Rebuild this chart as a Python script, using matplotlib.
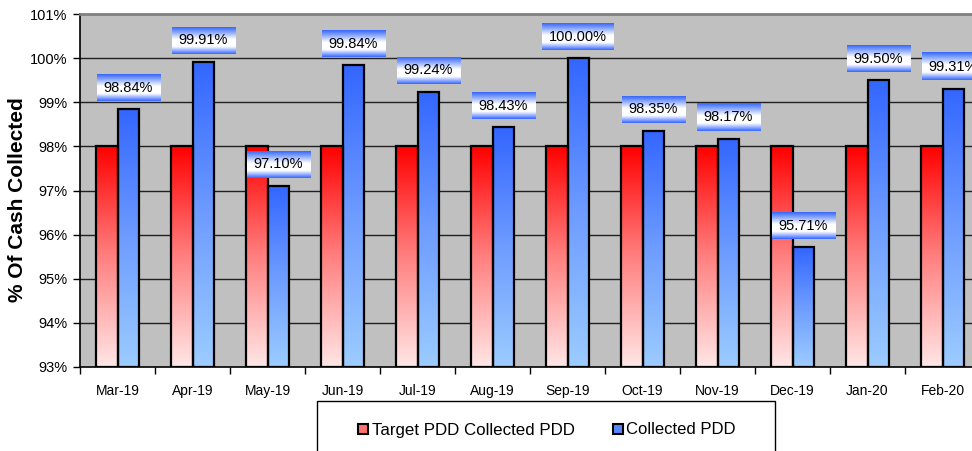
import numpy as np
import matplotlib
matplotlib.use('Agg')
import matplotlib.pyplot as plt
from matplotlib.colors import LinearSegmentedColormap
from matplotlib.patches import Rectangle

plt.rcParams['font.family'] = ['Liberation Sans', 'DejaVu Sans']

# Data
months = ['Mar-19', 'Apr-19', 'May-19', 'Jun-19', 'Jul-19', 'Aug-19',
          'Sep-19', 'Oct-19', 'Nov-19', 'Dec-19', 'Jan-20', 'Feb-20']
target = [98, 98, 98, 98, 98, 98, 98, 98, 98, 98, 98, 98]
collected = [98.84, 99.91, 97.10, 99.84, 99.24, 98.43,
             100.00, 98.35, 98.17, 95.71, 99.50, 99.31]
yticks = [93, 94, 95, 96, 97, 98, 99, 100, 101]

red_cmap = LinearSegmentedColormap.from_list('r', ['#FF0000', '#FF8080', '#FFE6E6'])
blue_cmap = LinearSegmentedColormap.from_list('b', ['#3366FF', '#6E9CFF', '#9CCCFF'])
box_cmap = LinearSegmentedColormap.from_list(
    'box', [(0, '#3366FF'), (0.45, '#FFFFFF'), (0.72, '#FFFFFF'), (1, '#3366FF')])

fig = plt.figure(figsize=(9.72, 4.51), dpi=100)
ax = fig.add_axes([80 / 972, (451 - 367) / 451, 900 / 972, 353 / 451])
ax.set_facecolor('#C0C0C0')
ymin, ymax = 93, 101
ax.set_xlim(0, len(months))
ax.set_ylim(ymin, ymax)

grad = np.linspace(0, 1, 256).reshape(-1, 1)
w = 0.29
for i, (t, c) in enumerate(zip(target, collected)):
    for x0, val, cmap in [(i + 0.5 - w, t, red_cmap), (i + 0.5, c, blue_cmap)]:
        ax.imshow(grad, cmap=cmap, aspect='auto', extent=(x0, x0 + w, ymin, val),
                  zorder=2, interpolation='bilinear')
        ax.add_patch(Rectangle((x0, ymin), w, val - ymin, fill=False,
                               edgecolor='black', lw=1.6, zorder=3))
ax.set_xlim(0, len(months))
ax.set_ylim(ymin, ymax)

# gridlines
for y in yticks[1:-1]:
    ax.axhline(y, color='#202020', lw=1, zorder=1)

ax.set_yticks(yticks)
ax.set_yticklabels([f'{y}%' for y in yticks], fontsize=10.5)
ax.set_xticks(np.arange(len(months)) + 0.5)
ax.set_xticklabels(months, fontsize=10)
ax.set_xticks(np.arange(len(months) + 1), minor=True)
ax.tick_params(axis='x', which='major', length=0, pad=12)
ax.tick_params(axis='x', which='minor', length=5, direction='out', width=1)
ax.tick_params(axis='y', length=5, width=1, pad=4)
ax.spines['top'].set_color('#808080')
ax.spines['top'].set_linewidth(2)
ax.spines['right'].set_visible(False)
ax.spines['left'].set_linewidth(1.2)
ax.spines['bottom'].set_linewidth(1.2)

fig.text(18 / 972, (451 - 200) / 451, '% Of Cash Collected', rotation=90,
         fontsize=15, fontweight='bold', ha='center', va='center')

# value labels with gradient boxes
texts = []
for i, c in enumerate(collected):
    t = ax.text(i + 0.5 + w / 2, c + 0.49, f'{c:.2f}%', ha='center', va='center',
                fontsize=10.5, zorder=6, clip_on=False)
    texts.append(t)
fig.canvas.draw()
inv = ax.transData.inverted()
for i, (t, c) in enumerate(zip(texts, collected)):
    bb = t.get_window_extent()
    _, yc = ax.transData.transform((0, c + 0.49))
    (bx0, by0) = inv.transform((bb.x0 - 7, yc - 13.5))
    (bx1, by1) = inv.transform((bb.x1 + 7, yc + 13.5))
    ax.imshow(grad, cmap=box_cmap, aspect='auto', extent=(bx0, bx1, by0, by1),
              zorder=5, interpolation='bilinear', clip_on=False)
ax.set_xlim(0, len(months))
ax.set_ylim(ymin, ymax)

# legend box
fig.patches.append(Rectangle((317 / 972, -0.05), (775 - 317) / 972, (451 - 401) / 451 + 0.05,
                             transform=fig.transFigure, fill=False, edgecolor='black', lw=1))
fig.patches.append(Rectangle((358 / 972, (451 - 434) / 451), 10 / 972, 10 / 451,
                             transform=fig.transFigure, facecolor='#FF7070', edgecolor='black', lw=1.5))
fig.patches.append(Rectangle((613 / 972, (451 - 434) / 451), 10 / 972, 10 / 451,
                             transform=fig.transFigure, facecolor='#5588FF', edgecolor='black', lw=1.5))
fig.text(372 / 972, (451 - 430) / 451, 'Target PDD Collected PDD', fontsize=12.2, va='center')
fig.text(626 / 972, (451 - 430) / 451, 'Collected PDD', fontsize=12, va='center')

fig.savefig('out.png', dpi=100)
